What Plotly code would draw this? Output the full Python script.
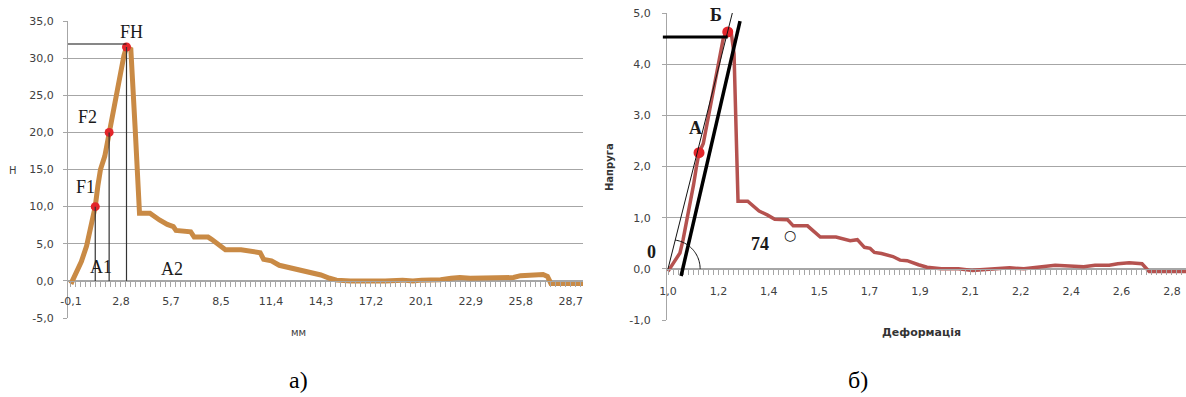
import numpy as np
import plotly.graph_objects as go

# ---------------- data: chart а) ----------------
left_x = [-0.1, 0.2, 0.5, 0.8, 1.1, 1.3, 1.45, 1.6, 1.85, 2.1, 2.4, 2.7, 2.95, 3.1, 3.35, 3.6,
          3.85, 4.45, 4.6, 5.0, 5.45, 5.8, 5.95, 6.6, 6.8, 7.0, 7.8, 8.0, 8.45, 8.8, 9.7, 10.35,
          10.8, 11.0, 11.45, 11.9, 12.3, 12.8, 13.2, 13.7, 14.3, 14.8, 15.2, 16.0, 16.6, 17.2,
          18.0, 19.0, 19.6, 20.1, 20.8, 21.2, 21.8, 22.3, 22.9, 23.4, 24.0, 24.5, 25.4, 25.8,
          26.7, 27.1, 27.35, 27.55, 29.4]
left_y = [-0.4, 1.2, 2.6, 4.7, 7.8, 10.0, 12.8, 15.0, 16.8, 20.0, 23.6, 27.2, 30.3, 31.5, 31.2, 20.5,
          9.1, 9.1, 8.8, 8.2, 7.6, 7.3, 6.8, 6.6, 6.6, 5.9, 5.9, 5.6, 4.9, 4.2, 4.2, 4.0,
          3.8, 2.9, 2.7, 2.1, 1.9, 1.6, 1.3, 1.1, 0.8, 0.35, 0.1, 0.0, 0.0, -0.15,
          0.0, 0.1, 0.0, 0.1, 0.05, 0.15, 0.35, 0.45, 0.35, 0.35, 0.4, 0.45, 0.45, 0.7,
          0.8, 0.85, 0.6, -0.35, -0.35]
left_tick_vals = [-0.1, 2.78, 5.66, 8.54, 11.42, 14.3, 17.18, 20.06, 22.94, 25.82, 28.7]
left_tick_text = ["-0,1", "2,8", "5,7", "8,5", "11,4", "14,3", "17,2", "20,1", "22,9", "25,8", "28,7"]
left_y_vals = [-5, 0, 5, 10, 15, 20, 25, 30, 35]
left_y_text = ["-5,0", "0,0", "5,0", "10,0", "15,0", "20,0", "25,0", "30,0", "35,0"]
F_names = ["F1", "F2", "FH"]
F_x = [1.3, 2.1, 3.1]
F_y = [10.0, 20.0, 31.5]

# ---------------- data: chart б) ----------------
right_x = [1.0, 1.025, 1.042, 1.053, 1.067, 1.08, 1.09, 1.10, 1.109, 1.124, 1.136, 1.165, 1.194,
           1.206, 1.222, 1.232, 1.246, 1.28, 1.32, 1.35, 1.375, 1.42, 1.44, 1.49, 1.535, 1.59,
           1.64, 1.665, 1.69, 1.71, 1.725, 1.75, 1.79, 1.815, 1.84, 1.88, 1.91, 1.96, 2.02, 2.07,
           2.14, 2.2, 2.25, 2.33, 2.36, 2.46, 2.5, 2.55, 2.58, 2.62, 2.665, 2.69, 2.82]
right_y = [-0.05, 0.18, 0.31, 0.57, 0.96, 1.35, 1.65, 2.0, 2.27, 2.45, 2.8, 3.63, 4.5,
           4.63, 4.62, 4.2, 1.32, 1.32, 1.13, 1.05, 0.97, 0.96, 0.84, 0.84, 0.62, 0.62,
           0.55, 0.57, 0.42, 0.40, 0.32, 0.30, 0.24, 0.17, 0.16, 0.08, 0.03, 0.0, 0.0, -0.03,
           0.0, 0.02, 0.0, 0.05, 0.07, 0.04, 0.07, 0.07, 0.1, 0.12, 0.1, -0.05, -0.05]
right_tick_vals = [1.0, 1.177, 1.354, 1.531, 1.708, 1.885, 2.062, 2.239, 2.416, 2.593, 2.77]
right_tick_text = ["1,0", "1,2", "1,4", "1,5", "1,7", "1,9", "2,1", "2,2", "2,4", "2,6", "2,8"]
right_y_vals = [-1, 0, 1, 2, 3, 4, 5]
right_y_text = ["-1,0", "0,0", "1,0", "2,0", "3,0", "4,0", "5,0"]
pt_names = ["А", "Б"]
pt_x = [1.109, 1.21]
pt_y = [2.27, 4.63]
# guide lines (data units)
thin_line = dict(x0=1.0, y0=0.0, x1=1.226, y1=5.0)
thick_line = dict(x0=1.046, y0=-0.14, x1=1.253, y1=4.84)
B_level = 4.53

W, H = 1186, 397
GRID = "#a6a6a6"
TICKF = dict(family="DejaVu Sans", size=11, color="#404040")

# layout geometry
L_dom_x = [68 / W, 583 / W]
L_dom_y = [1 - 318 / H, 1 - 21 / H]
L_range_x = [-0.27, 29.4]
L_range_y = [-5, 35]
R_dom_x = [667 / W, 1.0]
R_dom_y = [1 - 320 / H, 1 - 13 / H]
R_range_x = [0.9965, 2.8195]
R_range_y = [-1, 5]
L_zero = L_dom_y[0] + (L_dom_y[1] - L_dom_y[0]) * (0 - L_range_y[0]) / (L_range_y[1] - L_range_y[0])
R_zero = R_dom_y[0] + (R_dom_y[1] - R_dom_y[0]) * (0 - R_range_y[0]) / (R_range_y[1] - R_range_y[0])

L_minor = list(np.arange(left_tick_vals[0], 29.4, (left_tick_vals[1] - left_tick_vals[0]) / 10))
R_minor = list(np.arange(right_tick_vals[0], 2.82, (right_tick_vals[1] - right_tick_vals[0]) / 10))

fig = go.Figure()
fig.add_trace(go.Scatter(x=left_x, y=left_y, mode="lines", xaxis="x", yaxis="y",
                         line=dict(color="#c98a45", width=5), showlegend=False))
fig.add_trace(go.Scatter(x=F_x, y=F_y, mode="markers", xaxis="x", yaxis="y",
                         marker=dict(color="#e3262b", size=9), showlegend=False))
fig.add_trace(go.Scatter(x=right_x, y=right_y, mode="lines", xaxis="x2", yaxis="y2",
                         line=dict(color="#b5524f", width=3.5), showlegend=False))
fig.add_trace(go.Scatter(x=pt_x, y=pt_y, mode="markers", xaxis="x2", yaxis="y2",
                         marker=dict(color="#e3262b", size=11), showlegend=False))

shapes = []
# chart а) guide lines
shapes.append(dict(type="line", xref="x", yref="y", x0=L_range_x[0], x1=F_x[2], y0=31.9, y1=31.9,
                   line=dict(color="#111", width=1.2)))
for fx, fy in zip(F_x, F_y):
    shapes.append(dict(type="line", xref="x", yref="y", x0=fx, x1=fx, y0=fy, y1=0,
                       line=dict(color="#333", width=1.2)))
# chart б) guide lines
shapes.append(dict(type="line", xref="x2", yref="y2", **thin_line, line=dict(color="#111", width=1)))
shapes.append(dict(type="line", xref="x2", yref="y2", **thick_line, line=dict(color="#000", width=3.5)))
shapes.append(dict(type="line", xref="x2 domain", yref="y2", x0=-0.008, x1=0, y0=B_level, y1=B_level,
                   line=dict(color="#000", width=3)))
shapes.append(dict(type="line", xref="x2", yref="y2", x0=R_range_x[0], x1=pt_x[1], y0=B_level, y1=B_level,
                   line=dict(color="#000", width=3)))
# angle arc (pixel radius converted to data units)
px_x = (R_dom_x[1] - R_dom_x[0]) * W / (R_range_x[1] - R_range_x[0])
px_y = (R_dom_y[1] - R_dom_y[0]) * H / (R_range_y[1] - R_range_y[0])
ang = np.radians(np.linspace(82, 0, 30))
cx, cy, r = 1.011, 0.0, 29
arc_x = cx + r * np.cos(ang) / px_x
arc_y = cy + r * np.sin(ang) / px_y
path = "M " + " L ".join(f"{a:.5f},{b:.5f}" for a, b in zip(arc_x, arc_y))
shapes.append(dict(type="path", xref="x2", yref="y2", path=path, line=dict(color="#111", width=1)))

ann = []
C = dict(showarrow=False, xanchor="center", yanchor="middle")
serif = dict(family="Liberation Serif", size=18, color="#1a1a1a")
serif_b = dict(family="Liberation Serif", size=18, color="#1a1a1a", weight="bold")
for name, ax_, ay_ in zip(F_names, [0.71, 0.88, 3.36], [12.65, 22.1, 33.5]):
    ann.append(dict(text=name, x=ax_, y=ay_, xref="x", yref="y", font=serif, **C))
ann.append(dict(text="A1", x=1.63, y=1.9, xref="x", yref="y", font=serif, **C))
ann.append(dict(text="A2", x=5.72, y=1.6, xref="x", yref="y", font=serif, **C))
ann.append(dict(text="А", x=1.098, y=2.75, xref="x2", yref="y2", font=serif_b, **C))
ann.append(dict(text="Б", x=1.169, y=4.97, xref="x2", yref="y2", font=serif_b, **C))
ann.append(dict(text="74", x=1.323, y=0.49, xref="x2", yref="y2", font=serif_b, **C))
ann.append(dict(text="○", x=1.43, y=0.66, xref="x2", yref="y2",
                font=dict(family="DejaVu Sans", size=14, color="#111"), **C))
ann.append(dict(text="0", x=651 / W, y=1 - 252 / H, xref="paper", yref="paper", font=serif_b, **C))
# axis titles
ann.append(dict(text="Н", x=13 / W, y=1 - 170 / H, xref="paper", yref="paper",
                font=dict(family="DejaVu Sans", size=10, color="#404040"), **C))
ann.append(dict(text="мм", x=298 / W, y=1 - 332 / H, xref="paper", yref="paper",
                font=dict(family="DejaVu Sans", size=10, color="#404040"), **C))
ann.append(dict(text="Напруга", x=609 / W, y=1 - 167 / H, xref="paper", yref="paper",
                textangle=-90, font=dict(family="DejaVu Sans", size=10, color="#333", weight="bold"), **C))
ann.append(dict(text="Деформація", x=921 / W, y=1 - 332 / H, xref="paper", yref="paper",
                font=dict(family="DejaVu Sans", size=11, color="#333", weight="bold"), **C))
# captions
ann.append(dict(text="а)", x=298 / W, y=1 - 380 / H, xref="paper", yref="paper",
                font=dict(family="Liberation Serif", size=24, color="#000"), **C))
ann.append(dict(text="б)", x=858 / W, y=1 - 380 / H, xref="paper", yref="paper",
                font=dict(family="Liberation Serif", size=24, color="#000"), **C))

common_x = dict(showgrid=False, zeroline=False, showline=True, linecolor=GRID, linewidth=1,
                ticks="outside", ticklen=5, tickcolor=GRID, tickfont=TICKF, anchor="free",
                tickmode="array", automargin=False)
common_y = dict(showgrid=True, gridcolor=GRID, gridwidth=1, zeroline=False, showline=True,
                linecolor=GRID, linewidth=1, ticks="outside", ticklen=4, tickcolor=GRID,
                tickfont=TICKF, tickmode="array", automargin=False)

fig.update_layout(
    template="none",
    width=W, height=H, autosize=False, margin=dict(l=0, r=0, t=0, b=0),
    paper_bgcolor="white", plot_bgcolor="white", showlegend=False,
    xaxis=dict(domain=L_dom_x, range=L_range_x, position=L_zero, tickvals=left_tick_vals,
               ticktext=left_tick_text, ticklabelstandoff=5,
               minor=dict(tickmode="array", tickvals=L_minor, ticks="outside", ticklen=5,
                          tickcolor=GRID, showgrid=False), **common_x),
    yaxis=dict(domain=L_dom_y, range=L_range_y, anchor="x", tickvals=left_y_vals,
               ticktext=left_y_text, ticklabelstandoff=7, **common_y),
    xaxis2=dict(domain=R_dom_x, range=R_range_x, position=R_zero, tickvals=right_tick_vals,
                ticktext=right_tick_text, ticklabelstandoff=7,
                minor=dict(tickmode="array", tickvals=R_minor, ticks="outside", ticklen=5,
                           tickcolor=GRID, showgrid=False), **common_x),
    yaxis2=dict(domain=R_dom_y, range=R_range_y, anchor="x2", tickvals=right_y_vals,
                ticktext=right_y_text, ticklabelstandoff=9, **common_y),
    shapes=shapes, annotations=ann,
)
fig.write_html("out.html", config={"displayModeBar": False},
               post_script="document.body.style.margin='0px';document.body.style.overflow='hidden';")
